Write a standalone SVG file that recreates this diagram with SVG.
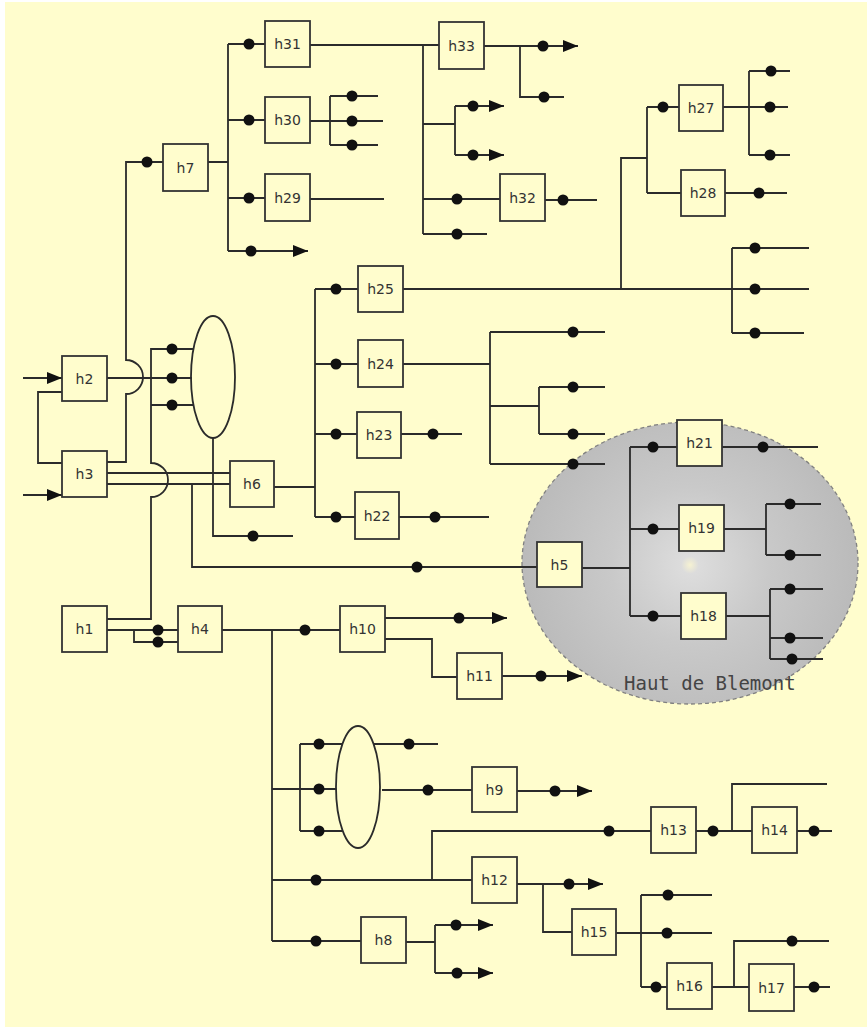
<svg xmlns="http://www.w3.org/2000/svg" width="867" height="1027" viewBox="0 0 867 1027">
<style>
.ln{fill:none;stroke:#2b2b2b;stroke-width:1.8}
.ar{fill:none;stroke:#2b2b2b;stroke-width:1.8;marker-end:url(#arr)}
.dot{fill:#111}
.box{fill:#FFFDCD;stroke:#333;stroke-width:1.8}
.lbl{font-family:"DejaVu Sans","Liberation Sans",sans-serif;font-size:14px;fill:#333;text-anchor:middle;dominant-baseline:central}
.ell{fill:none;stroke:#2b2b2b;stroke-width:1.8}
</style>
<defs>
<marker id="arr" markerUnits="userSpaceOnUse" markerWidth="15" markerHeight="12" refX="15" refY="6" orient="auto">
<path d="M0,0 L15,6 L0,12 z" fill="#111"/>
</marker>
<radialGradient id="gg" cx="690" cy="565" r="175" gradientUnits="userSpaceOnUse">
<stop offset="0" stop-color="#F6F2D2"/>
<stop offset="0.05" stop-color="#DCDCDC"/>
<stop offset="0.45" stop-color="#C9C9C9"/>
<stop offset="1" stop-color="#B9B9B9"/>
</radialGradient>
</defs>
<rect x="0" y="0" width="867" height="1027" fill="#FFFFFF"/>
<rect x="5" y="2" width="862" height="1025" fill="#FFFDCD"/>
<g id="zone-haut-de-blemont">
<ellipse cx="690" cy="563" rx="168" ry="141" fill="url(#gg)" stroke="#808080" stroke-width="1.3" stroke-dasharray="4 3"/>
<text x="624" y="690" font-family="DejaVu Sans Mono,Liberation Mono,monospace" font-size="19" fill="#444">Haut de Blemont</text>
</g>
<g id="ellipse-upper"><ellipse class="ell" cx="213" cy="377" rx="22" ry="61"/></g>
<g id="ellipse-lower"><ellipse class="ell" cx="358" cy="787" rx="22" ry="61"/></g>
<g id="connectors">
<path class="ar" d="M23,378 H62"/>
<path class="ar" d="M23,495 H62"/>
<path class="ln" d="M62,392 H38 V463 H62"/>
<path class="ln" d="M107,378 H192"/>
<path class="ln" d="M107,462 H126 V394 A17,17 0 0 0 126,360 V162 H163"/>
<path class="ln" d="M107,619 H151 V497 A17,17 0 0 0 151,463 V349 H193"/>
<path class="ln" d="M151,405 H193"/>
<path class="ln" d="M107,473 H230 M107,484 H230"/>
<path class="ln" d="M192,484 V567 H537"/>
<path class="ln" d="M213,438 V536 H293"/>
<path class="ln" d="M107,630 H178 M134,630 V642 H178"/>
<path class="ln" d="M274,487 H315 M315,289 V517 M315,289 H358 M315,364 H358 M315,434 H357 M315,517 H355"/>
<path class="ln" d="M401,434 H462 M399,517 H489"/>
<path class="ln" d="M403,364 H490 M490,332 V464 M490,332 H605 M490,406 H539 M539,387 V434 M539,387 H605 M539,434 H605 M490,464 H605"/>
<path class="ln" d="M403,289 H809 M621,289 V158 H647 M647,107 V193 M647,107 H679 M647,193 H681"/>
<path class="ln" d="M732,248 V333 M732,248 H809 M732,333 H804"/>
<path class="ln" d="M723,107 H749 M749,71 V155 M749,71 H790 M749,107 H788 M749,155 H790"/>
<path class="ln" d="M725,193 H787"/>
<path class="ln" d="M208,162 H228 M228,44 V251 M228,44 H265 M228,120 H265 M228,198 H265"/>
<path class="ar" d="M228,251 H308"/>
<path class="ln" d="M310,121 H330 M330,96 V145 M330,96 H378 M330,121 H383 M330,145 H378"/>
<path class="ln" d="M310,199 H384"/>
<path class="ln" d="M310,45 H439 M423,45 V234 M423,124 H455 M455,106 V155 M423,199 H500 M423,234 H487"/>
<path class="ar" d="M455,106 H504"/>
<path class="ar" d="M455,155 H504"/>
<path class="ln" d="M545,200 H597"/>
<path class="ar" d="M484,46 H578"/>
<path class="ln" d="M520,46 V97 H564"/>
<path class="ln" d="M582,568 H630 M630,447 V616 M630,447 H677 M630,529 H679 M630,616 H681"/>
<path class="ln" d="M722,447 H818"/>
<path class="ln" d="M724,529 H766 M766,504 V555 M766,504 H821 M766,555 H821"/>
<path class="ln" d="M726,616 H770 M770,589 V659 M770,589 H823 M770,638 H823 M770,659 H823"/>
<path class="ln" d="M222,630 H340 M272,630 V941"/>
<path class="ar" d="M385,618 H507"/>
<path class="ln" d="M385,639 H432 V677 H457"/>
<path class="ar" d="M502,676 H582"/>
<path class="ln" d="M272,789 H300 M300,744 V831 M300,744 H342 M300,789 H336 M300,831 H342"/>
<path class="ln" d="M374,744 H438 M382,790 H472"/>
<path class="ar" d="M517,791 H592"/>
<path class="ln" d="M272,880 H472 M432,880 V831 H651"/>
<path class="ar" d="M517,884 H603"/>
<path class="ln" d="M543,884 V932 H572"/>
<path class="ln" d="M272,941 H361 M406,942 H435 M435,925 V973"/>
<path class="ar" d="M435,925 H493"/>
<path class="ar" d="M435,973 H493"/>
<path class="ln" d="M696,831 H752 M732,831 V784 H827"/>
<path class="ln" d="M797,831 H832"/>
<path class="ln" d="M616,933 H641 M641,895 V987 M641,895 H712 M641,933 H712 M641,987 H667"/>
<path class="ln" d="M712,987 H749 M734,987 V941 H829"/>
<path class="ln" d="M794,987 H830"/>
<g class="dot">
<circle cx="172" cy="349" r="5.5"/><circle cx="172" cy="378" r="5.5"/><circle cx="172" cy="405" r="5.5"/>
<circle cx="147" cy="162" r="5.5"/>
<circle cx="417" cy="567" r="5.5"/><circle cx="253" cy="536" r="5.5"/>
<circle cx="158" cy="630" r="5.5"/><circle cx="158" cy="642" r="5.5"/>
<circle cx="336" cy="289" r="5.5"/><circle cx="336" cy="364" r="5.5"/><circle cx="336" cy="434" r="5.5"/><circle cx="336" cy="517" r="5.5"/>
<circle cx="433" cy="434" r="5.5"/><circle cx="435" cy="517" r="5.5"/>
<circle cx="573" cy="332" r="5.5"/><circle cx="573" cy="387" r="5.5"/><circle cx="573" cy="434" r="5.5"/><circle cx="573" cy="464" r="5.5"/>
<circle cx="663" cy="107" r="5.5"/>
<circle cx="755" cy="248" r="5.5"/><circle cx="755" cy="289" r="5.5"/><circle cx="755" cy="333" r="5.5"/>
<circle cx="771" cy="71" r="5.5"/><circle cx="770" cy="107" r="5.5"/><circle cx="770" cy="155" r="5.5"/>
<circle cx="759" cy="193" r="5.5"/>
<circle cx="249" cy="44" r="5.5"/><circle cx="249" cy="120" r="5.5"/><circle cx="249" cy="198" r="5.5"/><circle cx="251" cy="251" r="5.5"/>
<circle cx="352" cy="96" r="5.5"/><circle cx="352" cy="121" r="5.5"/><circle cx="352" cy="145" r="5.5"/>
<circle cx="473" cy="106" r="5.5"/><circle cx="473" cy="155" r="5.5"/>
<circle cx="457" cy="199" r="5.5"/><circle cx="457" cy="234" r="5.5"/>
<circle cx="563" cy="200" r="5.5"/>
<circle cx="543" cy="46" r="5.5"/><circle cx="544" cy="97" r="5.5"/>
<circle cx="653" cy="447" r="5.5"/><circle cx="653" cy="529" r="5.5"/><circle cx="653" cy="616" r="5.5"/>
<circle cx="763" cy="447" r="5.5"/>
<circle cx="790" cy="504" r="5.5"/><circle cx="790" cy="555" r="5.5"/>
<circle cx="790" cy="589" r="5.5"/><circle cx="790" cy="638" r="5.5"/><circle cx="792" cy="659" r="5.5"/>
<circle cx="305" cy="630" r="5.5"/>
<circle cx="459" cy="618" r="5.5"/><circle cx="541" cy="676" r="5.5"/>
<circle cx="319" cy="744" r="5.5"/><circle cx="319" cy="789" r="5.5"/><circle cx="319" cy="831" r="5.5"/>
<circle cx="409" cy="744" r="5.5"/><circle cx="428" cy="790" r="5.5"/>
<circle cx="555" cy="791" r="5.5"/>
<circle cx="316" cy="880" r="5.5"/><circle cx="609" cy="831" r="5.5"/>
<circle cx="569" cy="884" r="5.5"/>
<circle cx="316" cy="941" r="5.5"/><circle cx="456" cy="925" r="5.5"/><circle cx="457" cy="973" r="5.5"/>
<circle cx="713" cy="831" r="5.5"/><circle cx="814" cy="831" r="5.5"/>
<circle cx="668" cy="895" r="5.5"/><circle cx="667" cy="933" r="5.5"/><circle cx="656" cy="987" r="5.5"/>
<circle cx="792" cy="941" r="5.5"/><circle cx="814" cy="987" r="5.5"/>
</g>
</g>
<g id="h1"><rect class="box" x="62" y="606" width="45" height="46"/><text class="lbl" x="84.5" y="629">h1</text></g>
<g id="h2"><rect class="box" x="62" y="356" width="45" height="45"/><text class="lbl" x="84.5" y="378.5">h2</text></g>
<g id="h3"><rect class="box" x="62" y="451" width="45" height="46"/><text class="lbl" x="84.5" y="474">h3</text></g>
<g id="h4"><rect class="box" x="178" y="606" width="44" height="46"/><text class="lbl" x="200" y="629">h4</text></g>
<g id="h5"><rect class="box" x="537" y="542" width="45" height="45"/><text class="lbl" x="559.5" y="564.5">h5</text></g>
<g id="h6"><rect class="box" x="230" y="461" width="44" height="46"/><text class="lbl" x="252" y="484">h6</text></g>
<g id="h7"><rect class="box" x="163" y="144" width="45" height="47"/><text class="lbl" x="185.5" y="167.5">h7</text></g>
<g id="h8"><rect class="box" x="361" y="917" width="45" height="46"/><text class="lbl" x="383.5" y="940">h8</text></g>
<g id="h9"><rect class="box" x="472" y="767" width="45" height="45"/><text class="lbl" x="494.5" y="789.5">h9</text></g>
<g id="h10"><rect class="box" x="340" y="606" width="45" height="46"/><text class="lbl" x="362.5" y="629">h10</text></g>
<g id="h11"><rect class="box" x="457" y="653" width="45" height="46"/><text class="lbl" x="479.5" y="676">h11</text></g>
<g id="h12"><rect class="box" x="472" y="857" width="45" height="46"/><text class="lbl" x="494.5" y="880">h12</text></g>
<g id="h13"><rect class="box" x="651" y="807" width="45" height="46"/><text class="lbl" x="673.5" y="830">h13</text></g>
<g id="h14"><rect class="box" x="752" y="807" width="45" height="46"/><text class="lbl" x="774.5" y="830">h14</text></g>
<g id="h15"><rect class="box" x="572" y="909" width="44" height="46"/><text class="lbl" x="594" y="932">h15</text></g>
<g id="h16"><rect class="box" x="667" y="963" width="45" height="46"/><text class="lbl" x="689.5" y="986">h16</text></g>
<g id="h17"><rect class="box" x="749" y="964" width="45" height="47"/><text class="lbl" x="771.5" y="987.5">h17</text></g>
<g id="h18"><rect class="box" x="681" y="593" width="45" height="46"/><text class="lbl" x="703.5" y="616">h18</text></g>
<g id="h19"><rect class="box" x="679" y="505" width="45" height="46"/><text class="lbl" x="701.5" y="528">h19</text></g>
<g id="h21"><rect class="box" x="677" y="420" width="45" height="46"/><text class="lbl" x="699.5" y="443">h21</text></g>
<g id="h22"><rect class="box" x="355" y="492" width="44" height="47"/><text class="lbl" x="377" y="515.5">h22</text></g>
<g id="h23"><rect class="box" x="357" y="412" width="44" height="46"/><text class="lbl" x="379" y="435">h23</text></g>
<g id="h24"><rect class="box" x="358" y="340" width="45" height="47"/><text class="lbl" x="380.5" y="363.5">h24</text></g>
<g id="h25"><rect class="box" x="358" y="266" width="45" height="46"/><text class="lbl" x="380.5" y="289">h25</text></g>
<g id="h27"><rect class="box" x="679" y="85" width="44" height="46"/><text class="lbl" x="701" y="108">h27</text></g>
<g id="h28"><rect class="box" x="681" y="170" width="44" height="46"/><text class="lbl" x="703" y="193">h28</text></g>
<g id="h29"><rect class="box" x="265" y="174" width="45" height="47"/><text class="lbl" x="287.5" y="197.5">h29</text></g>
<g id="h30"><rect class="box" x="265" y="97" width="45" height="46"/><text class="lbl" x="287.5" y="120">h30</text></g>
<g id="h31"><rect class="box" x="265" y="21" width="45" height="46"/><text class="lbl" x="287.5" y="44">h31</text></g>
<g id="h32"><rect class="box" x="500" y="174" width="45" height="47"/><text class="lbl" x="522.5" y="197.5">h32</text></g>
<g id="h33"><rect class="box" x="439" y="22" width="45" height="47"/><text class="lbl" x="461.5" y="45.5">h33</text></g>
</svg>
